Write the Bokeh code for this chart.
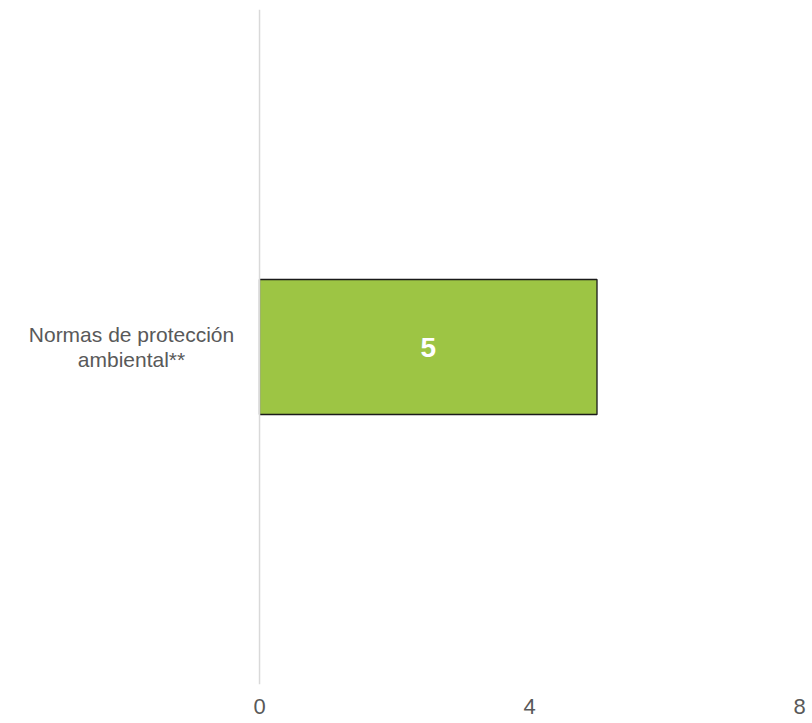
from bokeh.plotting import figure
from bokeh.models import ColumnDataSource, FixedTicker, Range1d, FactorRange, Span
from bokeh.layouts import row
from bokeh.core.properties import value
from bokeh.embed import file_html
from bokeh.resources import INLINE

categories = ["Normas de protección\nambiental**"]
values = [5]
bar_labels = ["5"]
x_ticks = [0, 4, 8]

src = ColumnDataSource(dict(cat=categories, val=values, half=[v / 2 for v in values], lab=bar_labels,
                            lx=[131]))
yr = FactorRange(factors=categories)

TOP = 9
BOTTOM = 39

# left panel holding the category label
left = figure(width=237, height=723, y_range=yr, x_range=Range1d(0, 237),
              output_backend="svg", toolbar_location=None,
              min_border_left=0, min_border_right=0, min_border_top=TOP, min_border_bottom=BOTTOM)
left.axis.visible = False
left.grid.visible = False
left.outline_line_color = None
left.text(x="lx", y="cat", text="cat", source=src, text_align="center", text_baseline="middle",
          text_color="#595959", text_font=value("Liberation Sans"), text_font_size="21px",
          text_line_height=1.1)

# main chart
p = figure(width=575, height=723, y_range=yr, x_range=Range1d(-0.03, 8),
           output_backend="svg", toolbar_location=None,
           min_border_left=20, min_border_right=13, min_border_top=TOP, min_border_bottom=BOTTOM)
p.outline_line_color = None
p.xgrid.visible = False
p.ygrid.visible = False
p.yaxis.visible = False

p.hbar(y="cat", right="val", left=0, height=0.2, source=src,
       fill_color="#9dc544", line_color="#1a1a1a", line_width=1.3)
p.add_layout(Span(location=0, dimension="height", line_color="#d9d9d9", line_width=1.5))
p.text(x="half", y="cat", text="lab", source=src, text_align="center", text_baseline="middle",
       text_color="white", text_font=value("Liberation Sans"), text_font_style="bold",
       text_font_size="28px")

p.xaxis.ticker = FixedTicker(ticks=x_ticks)
p.xaxis.axis_line_color = None
p.xaxis.major_tick_line_color = None
p.xaxis.minor_tick_line_color = None
p.xaxis.major_tick_out = 0
p.xaxis.major_label_text_font = "Liberation Sans"
p.xaxis.major_label_text_font_size = "22px"
p.xaxis.major_label_text_color = "#595959"
p.xaxis.major_label_standoff = 14

layout = row(left, p, spacing=0)
open("out.html", "w").write(file_html(layout, INLINE))
